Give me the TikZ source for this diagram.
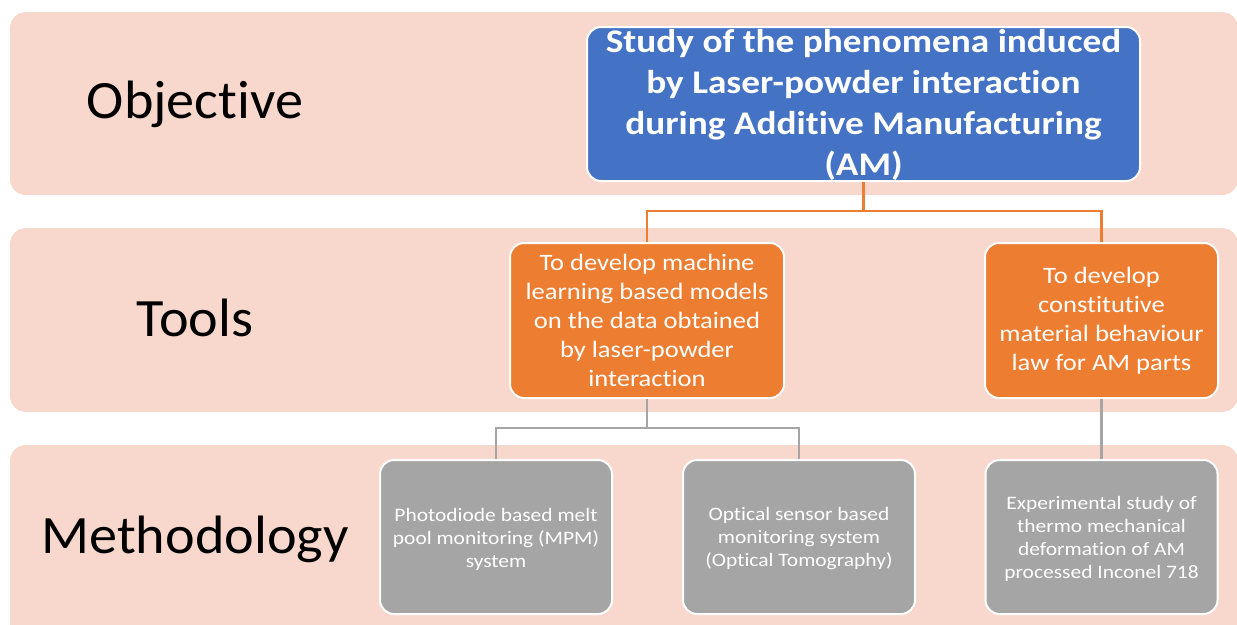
\documentclass[tikz,border=0pt]{standalone}
\usepackage{fontspec}
\setmainfont{Carlito}[Ligatures={NoCommon}]
\newfontfamily\boxfont{Carlito}[Ligatures={NoCommon},FakeStretch=1.13]
\newfontfamily\labelfont{Carlito}[Ligatures={NoCommon},FakeStretch=1.04]
\definecolor{band}{HTML}{F8D8CD}
\definecolor{bluebox}{HTML}{4472C4}
\definecolor{orangebox}{HTML}{ED7D31}
\definecolor{graybox}{HTML}{A5A5A5}
\tikzset{
  bandrect/.style={fill=band, draw=none, rounded corners=16pt},
  bandlabel/.style={text=black, font=\labelfont\fontsize{54}{60}\selectfont},
  blueshape/.style={fill=bluebox, draw=white, line width=2pt, rounded corners=14pt, minimum width=553pt, minimum height=154pt},
  orangeshape/.style={fill=orangebox, draw=white, line width=2pt, rounded corners=14pt, minimum height=155pt, text=white, align=center, font=\boxfont\fontsize{23.5}{29}\selectfont},
  grayshape/.style={fill=graybox, draw=white, line width=2pt, rounded corners=14pt, minimum width=232pt, minimum height=154pt, text=white, align=center, font=\boxfont\fontsize{19}{23}\selectfont},
  oline/.style={draw=orangebox, line width=2.5pt},
  gline/.style={draw=graybox, line width=2.5pt}
}
\begin{document}
\begin{tikzpicture}[x=1pt,y=-1pt]
\useasboundingbox (0,0) rectangle (1237,624);
\clip (0,0) rectangle (1237,624);
% bands
\fill[bandrect] (10,12) rectangle (1238,195);
\fill[bandrect] (10,228) rectangle (1238,412);
\fill[bandrect] (10,445) rectangle (1238,660);
% labels
\node[bandlabel] (lobj) at (195,104) {Objective};
\node[bandlabel] (ltools) at (195,318) {Tools};
\node[bandlabel] (lmeth) at (195,539) {Methodology};
% boxes
\node[blueshape] (blue) at (863.5,104) {};
\node[text=white, align=center, font=\boxfont\bfseries\fontsize{33}{41}\selectfont] (bluetext) at (863.5,105) {Study of the phenomena induced\\by Laser-powder interaction\\during Additive Manufacturing\\(AM)};
\node[orangeshape, minimum width=274pt] (o1) at (647,320.5) {To develop machine\\learning based models\\on the data obtained\\by laser-powder\\interaction};
\node[orangeshape, minimum width=233pt] (o2) at (1101.5,320.5) {To develop\\constitutive\\material behaviour\\law for AM parts};
\node[grayshape] (g1) at (496,537) {};
\node[grayshape] (g2) at (799,537) {};
\node[grayshape] (g3) at (1101.5,537) {};
\node[text=white, align=center, font=\boxfont\fontsize{19}{23}\selectfont] (g1t) at (496,539) {Photodiode based melt\\pool monitoring (MPM)\\system};
\node[text=white, align=center, font=\boxfont\fontsize{19}{23}\selectfont] (g2t) at (799,539) {Optical sensor based\\monitoring system\\(Optical Tomography)};
\node[text=white, align=center, font=\boxfont\fontsize{19}{23}\selectfont] (g3t) at (1101.5,539) {Experimental study of\\thermo mechanical\\deformation of AM\\processed Inconel 718};
% connectors
\coordinate (j1) at (863.5,211);
\draw[oline] (blue.south) -- (j1) -| (o1.north);
\draw[oline] (j1) -| (o2.north);
\coordinate (j2) at (647,428);
\draw[gline] (o1.south) -- (j2) -| (g1.north);
\draw[gline] (j2) -| (g2.north);
\draw[gline] (o2.south) -- (g3.north);
\end{tikzpicture}
\end{document}
